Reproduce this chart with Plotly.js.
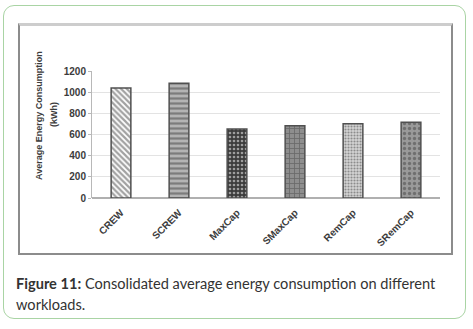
<!DOCTYPE html>
<html>
<head>
<meta charset="utf-8">
<script src="https://cdn.plot.ly/plotly-3.0.1.min.js"></script>
<style>
  html, body { margin: 0; padding: 0; background: #ffffff; }
  #wrap { position: relative; width: 473px; height: 329px; overflow: hidden; }
  #outer { position: absolute; left: 3px; top: 5px; width: 461px; height: 312px;
           border: 1.5px solid #a9d4a4; border-radius: 11px; }
  #inner { position: absolute; left: 18px; top: 23px; width: 431px; height: 227px;
           border: 2px solid #8c8c8c; border-top: 3px solid #cdcdcd; }
  #chart { position: absolute; left: 0; top: 0; width: 473px; height: 329px; }
</style>
</head>
<body>
<div id="wrap">
  <div id="outer"></div>
  <div id="inner"></div>
  <div id="chart"></div>
</div>
<script>
// ---- data ----
const categories = ["CREW", "SCREW", "MaxCap", "SMaxCap", "RemCap", "SRemCap"];
const energyKWh = [1040, 1085, 652, 683, 702, 716];
const yTickValues = [0, 200, 400, 600, 800, 1000, 1200];
const yTitleLine1 = "Average Energy Consumption";
const yTitleLine2 = "(kWh)";
const captionLine1 = "<b>Figure 11:</b> Consolidated average energy consumption on different";
const captionLine2 = "workloads.";

// ---- styling ----
const W = 473, H = 329;
const M = { l: 92, r: 33, t: 71, b: 131 };
const pw = W - M.l - M.r, ph = H - M.t - M.b;
const px = x => (x - M.l) / pw;
const py = y => (H - M.b - y) / ph;

const patShapes = ["\\", "-", ".", "+", ".", "."];
const patBg = ["#ffffff", "#b4b4b4", "#3c3c3c", "#8e8e8e", "#d4d4d4", "#9a9a9a"];
const patFg = ["#2e2e2e", "#555555", "#e6e6e6", "#cfcfcf", "#a8a8a8", "#dedede"];
const patSize = [4, 5, 4, 5, 3, 5];
const patSolid = [0.55, 0.45, 0.35, 0.3, 0.4, 0.35];

const trace = {
  type: "bar",
  x: categories,
  y: energyKWh,
  marker: {
    color: patBg,
    line: { color: "#505050", width: 1.5 },
    pattern: {
      shape: patShapes,
      bgcolor: patBg,
      fgcolor: patFg,
      size: patSize,
      solidity: patSolid,
      fillmode: "overlay"
    }
  },
  hoverinfo: "none"
};

const tickFont = { family: "Liberation Sans, Arial, sans-serif", size: 10, color: "#3c3c3c", weight: "bold" };
const titleFont = { family: "Liberation Sans, Arial, sans-serif", size: 9, color: "#3c3c3c", weight: "bold" };
const capFont = { family: "Lato, sans-serif", size: 14.6, color: "#333333" };

const layout = {
  width: W, height: H,
  margin: M,
  paper_bgcolor: "rgba(0,0,0,0)",
  plot_bgcolor: "rgba(0,0,0,0)",
  showlegend: false,
  bargap: 0.66,
  xaxis: {
    type: "category",
    tickangle: -45,
    tickfont: tickFont,
    ticklabelstandoff: 6,
    showgrid: false,
    showline: false,
    ticks: "",
    zeroline: false
  },
  yaxis: {
    range: [0, 1200],
    tickvals: yTickValues,
    ticktext: yTickValues.map(String),
    tickfont: tickFont,
    showgrid: true,
    gridcolor: "#e3e3e3",
    gridwidth: 1,
    showline: true,
    linecolor: "#b8b8b8",
    linewidth: 1,
    ticks: "outside",
    ticklen: 3,
    tickcolor: "#b8b8b8",
    zeroline: true,
    zerolinecolor: "#b0b0b0",
    zerolinewidth: 2
  },
  annotations: [
    {
      text: yTitleLine1,
      xref: "paper", yref: "paper",
      x: px(39), y: py(116),
      xanchor: "center", yanchor: "middle",
      textangle: -90, showarrow: false, font: titleFont
    },
    {
      text: yTitleLine2,
      xref: "paper", yref: "paper",
      x: px(54), y: py(115),
      xanchor: "center", yanchor: "middle",
      textangle: -90, showarrow: false, font: titleFont
    },
    {
      text: captionLine1,
      xref: "paper", yref: "paper",
      x: px(14), y: py(283),
      xanchor: "left", yanchor: "middle",
      showarrow: false, font: capFont
    },
    {
      text: captionLine2,
      xref: "paper", yref: "paper",
      x: px(14), y: py(304),
      xanchor: "left", yanchor: "middle",
      showarrow: false, font: capFont
    }
  ]
};

Plotly.newPlot("chart", [trace], layout, { staticPlot: true, displayModeBar: false });
</script>
</body>
</html>
